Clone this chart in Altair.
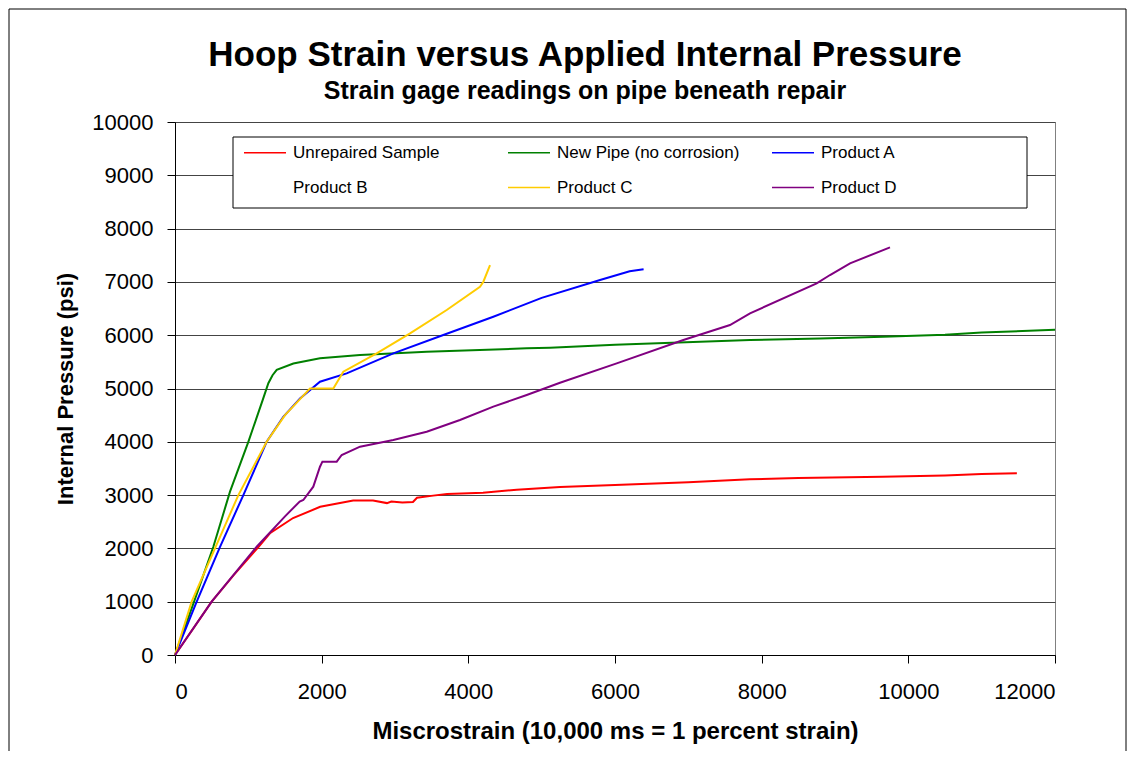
import altair as alt
import pandas as pd

SERIES = ["Unrepaired Sample", "New  Pipe (no corrosion)", "Product A",
          "Product B", "Product C", "Product D"]
COLORS = ["#FF0000", "#008000", "#0000FF", "#FFFFFF", "#FFCC00", "#800080"]

unrepaired_x = [0, 250, 500, 800, 1140, 1300, 1610, 1980, 2430, 2700, 2890, 2950,
                3100, 3245, 3300, 3520, 3710, 4200, 4660, 5250, 6000, 7000, 7840,
                8500, 9650, 10500, 11000, 11480]
unrepaired_y = [0, 500, 1000, 1500, 2030, 2290, 2570, 2780, 2900, 2900, 2850, 2880,
                2860, 2870, 2950, 2990, 3020, 3045, 3100, 3150, 3190, 3240, 3296,
                3320, 3346, 3370, 3395, 3408]

newpipe_x = [0, 260, 523, 750, 1000, 1200, 1273, 1330, 1387, 1614, 1977, 2523, 3432,
             4796, 5114, 6000, 7841, 8800, 9655, 10500, 11000, 12000]
newpipe_y = [0, 1000, 2030, 3064, 4000, 4800, 5100, 5250, 5350, 5470, 5566, 5628, 5690,
             5754, 5766, 5820, 5910, 5940, 5972, 6010, 6050, 6100]

prodA_x = [0, 296, 614, 932, 1250, 1477, 1705, 1977, 2341, 2977, 3659, 4341, 5000,
           5796, 6200, 6390]
prodA_y = [0, 1000, 2030, 3000, 4000, 4470, 4815, 5128, 5284, 5660, 6004, 6347, 6700,
           7036, 7200, 7236]

prodB_x = []
prodB_y = []

prodC_x = [0, 227, 545, 864, 1250, 1500, 1705, 1841, 2159, 2295, 2750, 3205, 3705,
           4159, 4205, 4296]
prodC_y = [0, 1000, 2000, 3000, 4000, 4500, 4800, 5000, 5000, 5316, 5660, 6035, 6473,
           6910, 7004, 7317]

prodD_x = [0, 500, 1114, 1500, 1700, 1750, 1886, 1977, 2010, 2205, 2273, 2523, 2977,
           3432, 3886, 4341, 4796, 5250, 6023, 6932, 7568, 7841, 8750, 8932, 9205, 9750]
prodD_y = [0, 1000, 2032, 2600, 2880, 2908, 3158, 3533, 3627, 3627, 3752, 3908, 4034,
           4190, 4409, 4659, 4878, 5109, 5472, 5910, 6191, 6410, 6972, 7129, 7348, 7648]

X_TICKS = [0, 2000, 4000, 6000, 8000, 10000, 12000]
Y_TICKS = [0, 1000, 2000, 3000, 4000, 5000, 6000, 7000, 8000, 9000, 10000]

rows = []
for name, xs, ys in [
    (SERIES[0], unrepaired_x, unrepaired_y),
    (SERIES[1], newpipe_x, newpipe_y),
    (SERIES[2], prodA_x, prodA_y),
    (SERIES[3], prodB_x, prodB_y),
    (SERIES[4], prodC_x, prodC_y),
    (SERIES[5], prodD_x, prodD_y),
]:
    for i, (xv, yv) in enumerate(zip(xs, ys)):
        rows.append({"series": name, "strain": xv, "pressure": yv, "order": i})
df = pd.DataFrame(rows)

FONT = "Liberation Sans"

lines = alt.Chart(df).mark_line(strokeWidth=2).encode(
    x=alt.X("strain:Q",
            scale=alt.Scale(domain=[0, 12000], nice=False),
            axis=alt.Axis(values=X_TICKS, format="d",
                          title="Miscrostrain (10,000 ms = 1 percent strain)",
                          grid=False, labelPadding=18, titlePadding=17,
                          titleFontSize=24)),
    y=alt.Y("pressure:Q",
            scale=alt.Scale(domain=[0, 10000], nice=False),
            axis=alt.Axis(values=Y_TICKS, format="d", title="Internal Pressure (psi)",
                          grid=True, labelPadding=14, titlePadding=14,
                          titleFontSize=22)),
    color=alt.Color("series:N",
                    scale=alt.Scale(domain=SERIES, range=COLORS),
                    legend=alt.Legend(
                        title=None, orient="none", legendX=58, legendY=9,
                        columns=3, direction="horizontal", gridAlign="all",
                        columnPadding=24, rowPadding=15,
                        symbolType="M-1,0H3", symbolSize=441, symbolStrokeWidth=1.5,
                        labelFont=FONT, labelFontSize=17, labelColor="#000",
                        labelOffset=27, padding=10, labelLimit=400)),
    detail="series:N",
    order="order:Q",
)

frame = alt.Chart(alt.Data(values=[{}])).mark_rect(
    fill=None, stroke="#000", strokeWidth=1
).encode(
    x=alt.value(-166), x2=alt.value(951), y=alt.value(-113), y2=alt.value(700)
)

legend_box = alt.Chart(alt.Data(values=[{}])).mark_rect(
    fill="#FFFFFF", stroke="#000", strokeWidth=1
).encode(
    x=alt.value(58), x2=alt.value(852), y=alt.value(15), y2=alt.value(86)
)

chart = alt.layer(frame, legend_box, lines).properties(
    width=880, height=533,
    background="#FFFFFF",
    autosize=alt.AutoSizeParams(type="none"),
    padding={"left": 167, "top": 114, "right": 72, "bottom": 96},
    title=alt.TitleParams(
        text="Hoop Strain versus Applied Internal Pressure",
        subtitle="Strain gage readings on pipe beneath repair",
        font=FONT, fontSize=35, fontWeight="bold", color="#000",
        subtitleFont=FONT, subtitleFontSize=25, subtitleFontWeight="bold",
        subtitleColor="#000", subtitlePadding=6, anchor="middle", dx=-30, offset=-95,
    ),
).configure_axis(
    labelFont=FONT, labelFontSize=22, labelColor="#000",
    titleFont=FONT, titleFontWeight="bold", titleColor="#000",
    domainColor="#000", tickColor="#000", tickSize=8, gridColor="#444",
    gridWidth=1,
).configure_view(
    stroke="#808080", strokeWidth=1
)

chart.save("out.html", embed_options={"renderer": "svg", "actions": False})
